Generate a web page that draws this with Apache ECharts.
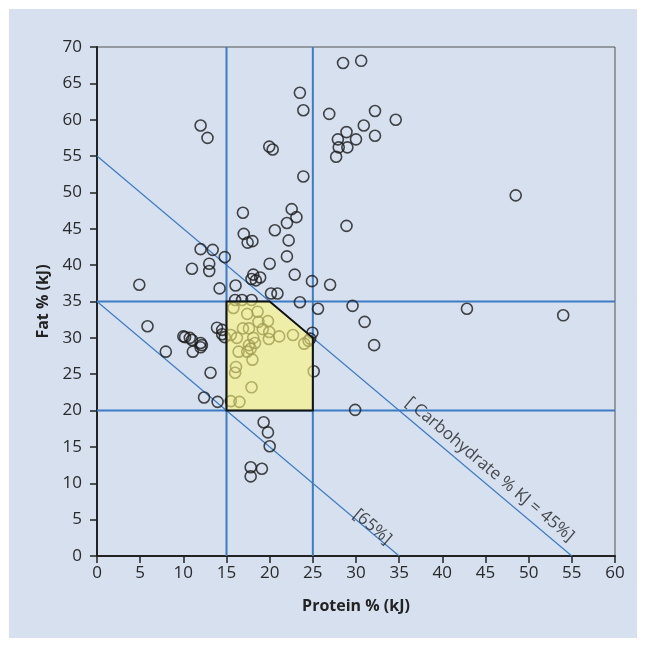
<!DOCTYPE html>
<html>
<head>
<meta charset="utf-8">
<script src="https://cdn.jsdelivr.net/npm/echarts@6/dist/echarts.min.js"></script>
<style>
  html, body { margin: 0; background: #fff; }
  #chart { position: absolute; left: 9px; top: 9px; width: 628px; height: 629px; }
</style>
</head>
<body>
<div id="chart"></div>
<script>
// Protein % (kJ) / Fat % (kJ) for each diet
const protein = [
  28.5, 30.6, 23.5, 23.9, 26.9, 32.2, 34.6, 30.9, 28.9, 32.2, 30.0, 27.9, 28.0, 29.0, 27.7,
  19.95, 20.35, 23.9, 28.9, 16.9, 22.55, 23.1, 22.0, 20.6, 12.0, 12.8, 17.0, 22.2, 17.45, 18.0,
  12.0, 13.4, 14.8, 22.0, 20.0, 11.0, 13.0, 13.0, 18.1, 17.9, 18.4, 18.9, 22.9, 24.9, 27.0,
  14.2, 16.05, 20.15, 20.9, 23.5, 25.6, 16.0, 16.8, 17.9, 4.9, 5.85, 7.97, 10.0, 10.2, 10.75,
  11.0, 11.1, 12.0, 12.15, 12.0, 13.15, 12.4, 13.97, 13.9, 14.5, 14.8, 14.5, 19.3, 19.8, 20.0,
  17.8, 19.1, 17.8, 48.5, 42.85, 54.0, 29.6, 31.0, 32.1, 29.9, 24.95, 24.7, 24.0, 24.5, 25.1,
  15.8, 17.4, 18.6, 19.8, 18.7, 16.9, 17.6, 19.2, 19.95, 22.7, 21.1, 19.9, 15.5, 16.2, 18.1,
  18.3, 17.6, 17.8, 17.4, 16.4, 18.0, 16.1, 16.0, 17.9, 15.5, 16.5
]
const fat = [
  67.8, 68.1, 63.7, 61.3, 60.8, 61.2, 60.0, 59.2, 58.3, 57.8, 57.3, 57.3, 56.2, 56.2, 54.9,
  56.3, 55.9, 52.2, 45.4, 47.2, 47.7, 46.6, 45.8, 44.8, 59.2, 57.5, 44.3, 43.4, 43.1, 43.3,
  42.2, 42.1, 41.1, 41.2, 40.2, 39.5, 40.2, 39.2, 38.7, 38.1, 37.9, 38.3, 38.7, 37.8, 37.3,
  36.8, 37.2, 36.1, 36.1, 34.9, 34.0, 35.2, 35.2, 35.2, 37.3, 31.6, 28.1, 30.2, 30.1, 30.0,
  29.7, 28.1, 29.3, 29.0, 28.7, 25.2, 21.8, 21.2, 31.4, 30.5, 30.1, 31.1, 18.4, 17.0, 15.1,
  12.2, 12.0, 10.95, 49.6, 34.0, 33.1, 34.4, 32.2, 29.0, 20.1, 30.7, 29.9, 29.2, 29.6, 25.4,
  34.1, 33.3, 33.6, 32.3, 32.2, 31.3, 31.3, 31.2, 30.8, 30.4, 30.2, 29.85, 30.4, 30.0, 30.0,
  29.3, 29.0, 28.5, 28.1, 28.1, 27.0, 26.0, 25.2, 23.2, 21.3, 21.2
]

// recommended range (yellow polygon)
const rangeX = [15, 25, 25, 20, 15]
const rangeY = [20, 20, 30, 35, 35]

// reference lines
const proteinLimits = [15, 25]
const fatLimits = [20, 35]
const carbLines = [45, 65]   // carbohydrate % -> protein + fat = 100 - carb

const xTicks = [0, 60, 5]
const yTicks = [0, 70, 5]

// annotation text along the diagonal lines
const noteText = ['[ Carbohydrate % KJ = 45%]', '[65%]']
const noteX = [45.5, 31.9]
const noteY = [11.9, 4.0]

const blue = '#3d7bc4'
const font = 'Open Sans'

const chart = echarts.init(document.getElementById('chart'))

const points = protein.map((p, i) => [p, fat[i]])

const series = [{
  type: 'scatter',
  data: points,
  symbol: 'circle',
  symbolSize: 11,
  itemStyle: { color: 'rgba(0,0,0,0)', borderColor: '#1a1a1a', borderWidth: 1.6 },
  z: 2,
  silent: true
}]

proteinLimits.forEach(x => {
  series.push({
    type: 'line', data: [[x, yTicks[0]], [x, yTicks[1]]], symbol: 'none',
    lineStyle: { color: blue, width: 2 }, z: 1, silent: true
  })
})
fatLimits.forEach(y => {
  series.push({
    type: 'line', data: [[xTicks[0], y], [xTicks[1], y]], symbol: 'none',
    lineStyle: { color: blue, width: 2 }, z: 1, silent: true
  })
})
carbLines.forEach(c => {
  const s = 100 - c
  series.push({
    type: 'line', data: [[0, s], [s, 0]], symbol: 'none',
    lineStyle: { color: blue, width: 1.2 }, z: 1, silent: true
  })
})

series.push({
  type: 'custom',
  data: [[rangeX[0], rangeY[0]]],
  z: 5,
  silent: true,
  renderItem: function (params, api) {
    return {
      type: 'polygon',
      shape: { points: rangeX.map((x, i) => api.coord([x, rangeY[i]])) },
      style: { fill: 'rgba(255,247,120,0.6)', stroke: '#141414', lineWidth: 2 }
    }
  }
})

noteText.forEach((t, i) => {
  series.push({
    type: 'scatter',
    data: [[noteX[i], noteY[i]]],
    symbolSize: 0,
    silent: true,
    z: 6,
    label: {
      show: true,
      position: 'inside',
      formatter: t,
      rotate: -40,
      color: '#222',
      fontFamily: font,
      fontSize: 17
    }
  })
})

chart.setOption({
  animation: false,
  backgroundColor: '#d6e0ef',
  grid: {
    left: 88, top: 38, right: 22, bottom: 82,
    show: true, borderColor: '#555', borderWidth: 1, backgroundColor: 'transparent'
  },
  xAxis: {
    type: 'value',
    min: xTicks[0], max: xTicks[1], interval: xTicks[2],
    name: 'Protein % (kJ)',
    nameLocation: 'middle',
    nameGap: 42,
    nameTextStyle: { fontFamily: font, fontSize: 16, fontWeight: 'bold', color: '#222' },
    axisLine: { show: true, onZero: false, lineStyle: { color: '#222', width: 2 } },
    axisTick: { show: true, length: 7, lineStyle: { color: '#222', width: 1.5 } },
    axisLabel: { margin: 9, fontFamily: font, fontSize: 17, color: '#2a2a2a' },
    splitLine: { show: false }
  },
  yAxis: {
    type: 'value',
    min: yTicks[0], max: yTicks[1], interval: yTicks[2],
    name: 'Fat % (kJ)',
    nameLocation: 'middle',
    nameGap: 46,
    nameTextStyle: { fontFamily: font, fontSize: 16, fontWeight: 'bold', color: '#222' },
    axisLine: { show: true, onZero: false, lineStyle: { color: '#222', width: 2 } },
    axisTick: { show: true, length: 7, lineStyle: { color: '#222', width: 1.5 } },
    axisLabel: { margin: 15, fontFamily: font, fontSize: 17, color: '#2a2a2a' },
    splitLine: { show: false }
  },
  series: series
})
</script>
</body>
</html>
